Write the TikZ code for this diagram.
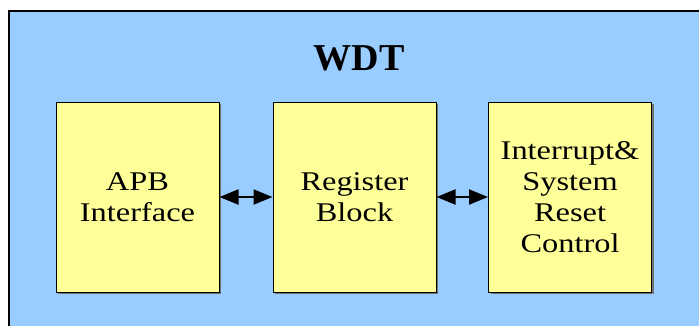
\documentclass[tikz,border=0pt]{standalone}
\usepackage{fontspec}
\setmainfont{Liberation Serif}
\newfontfamily\boxfont{Liberation Serif}[FakeStretch=1.2]
\usetikzlibrary{arrows.meta}
\definecolor{bgblue}{HTML}{99CCFF}
\definecolor{boxyellow}{HTML}{FFFF99}
\tikzset{
  blockbox/.style={draw=black, line width=1pt, fill=boxyellow, minimum width=163pt, minimum height=190pt,
    inner sep=0pt, align=center, font=\boxfont\fontsize{27pt}{31pt}\selectfont},
  shadowbox/.style={fill=black!55, minimum width=163pt, minimum height=190pt, inner sep=0pt},
  biarrow/.style={{Triangle[length=19pt,width=15pt]}-{Triangle[length=19pt,width=15pt]}, line width=2pt, black}
}
\begin{document}
\begin{tikzpicture}[x=1pt,y=-1pt]
\useasboundingbox (0,0) rectangle (699,325);
\fill[white] (0,0) rectangle (699,325);
\draw[fill=bgblue, line width=1.5pt] (9,11) rectangle (720,345);
\node[font=\bfseries\fontsize{38pt}{40pt}\selectfont] (title) at (359,58) {WDT};
\node[shadowbox] (s1) at (139.5,199) {};
\node[shadowbox] (s2) at (356.5,199) {};
\node[shadowbox] (s3) at (572,199) {};
\node[blockbox] (b1) at (137.5,197) {APB\\Interface};
\node[blockbox] (b2) at (354.5,197) {Register\\Block};
\node[blockbox] (b3) at (570,197) {Interrupt\&\\System\\Reset\\Control};
\draw[biarrow] (b1.east) -- (b2.west);
\draw[biarrow] (b2.east) -- (b3.west);
\end{tikzpicture}
\end{document}
